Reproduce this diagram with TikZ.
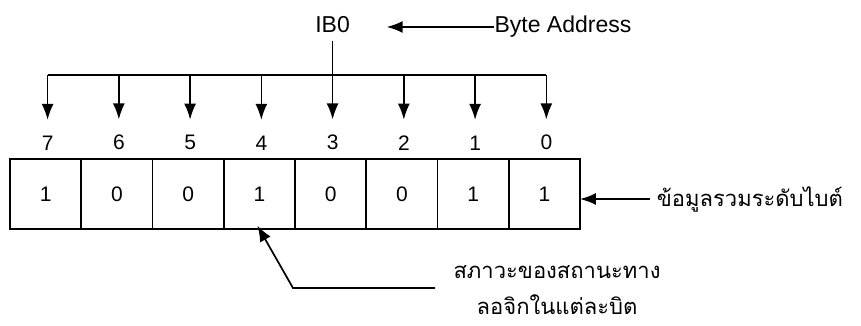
\documentclass[tikz,border=0pt]{standalone}
\usepackage{fontspec}
\setmainfont{Liberation Sans}
\newfontfamily\thaifont[Script=Thai]{Loma}
\usetikzlibrary{arrows.meta,positioning}

\tikzset{
  bitcell/.style={draw, rectangle, minimum width=71.25pt, minimum height=70pt, inner sep=0pt, outer sep=0pt, font=\fontsize{21}{24}\selectfont},
  bitnum/.style={inner sep=0pt, font=\fontsize{21}{24}\selectfont},
  bigtext/.style={inner sep=0pt, font=\fontsize{23}{26}\selectfont},
  thaitext/.style={inner sep=0pt, align=center, font=\thaifont\fontsize{22}{36}\selectfont}
}

\begin{document}
\begin{tikzpicture}[x=1pt, y=-1pt, line width=1.7pt, >={Latex[length=16pt,width=12pt]}]
    \useasboundingbox (0,0) rectangle (861,325);

    % The byte, bit 7 on the left down to bit 0 on the right
    \node[bitcell] (cell7) at (45.6,194) {1};
    \node[bitcell, right=0pt of cell7] (cell6) {0};
    \node[bitcell, right=0pt of cell6] (cell5) {0};
    \node[bitcell, right=0pt of cell5] (cell4) {1};
    \node[bitcell, right=0pt of cell4] (cell3) {0};
    \node[bitcell, right=0pt of cell3] (cell2) {0};
    \node[bitcell, right=0pt of cell2] (cell1) {1};
    \node[bitcell, right=0pt of cell1] (cell0) {1};

    % Bit numbers above the cells
    \node[bitnum, above=8pt of cell7, xshift=2pt] (bit7) {7};
    \node[bitnum, above=8pt of cell6, xshift=2pt] (bit6) {6};
    \node[bitnum, above=8pt of cell5, xshift=2pt] (bit5) {5};
    \node[bitnum, above=8pt of cell4, xshift=2pt] (bit4) {4};
    \node[bitnum, above=8pt of cell3, xshift=2pt] (bit3) {3};
    \node[bitnum, above=8pt of cell2, xshift=2pt] (bit2) {2};
    \node[bitnum, above=8pt of cell1, xshift=2pt] (bit1) {1};
    \node[bitnum, above=8pt of cell0, xshift=2pt] (bit0) {0};

    % Byte address on top
    \node[bigtext] (ib0) at (bit3 |- 0,25) {IB0};
    \node[bigtext, base right=143pt of ib0] (addr) {Byte Address};
    \draw[->] (addr.west) -- (addr.west -| ib0.east) [shorten >=36pt];

    % Bus line feeding every bit
    \coordinate (busline) at (0,75);
    \draw (bit7 |- busline) -- (bit0 |- busline);
    \draw[->, shorten >=15pt] (bit7 |- busline) -- (bit7);
    \draw[->, shorten >=15pt] (bit6 |- busline) -- (bit6);
    \draw[->, shorten >=15pt] (bit5 |- busline) -- (bit5);
    \draw[->, shorten >=15pt] (bit4 |- busline) -- (bit4);
    \draw[->, shorten >=15pt, shorten <=7pt] (ib0) -- (bit3);
    \draw[->, shorten >=15pt] (bit2 |- busline) -- (bit2);
    \draw[->, shorten >=15pt] (bit1 |- busline) -- (bit1);
    \draw[->, shorten >=15pt] (bit0 |- busline) -- (bit0);

    % Byte level data
    \node[thaitext, anchor=west] (bytedata) at (656,199) {ข้อมูลรวมระดับไบต์};
    \draw[->, shorten <=6pt] (bytedata.west) -- (bytedata.west -| cell0.east);

    % Logic state of each bit
    \node[thaitext] (bitstate) at (557,290) {สภาวะของสถานะทาง\\ลอจิกในแต่ละบิต};
    \coordinate (leadend) at (435,288);
    \coordinate (kink) at (293,288);
    \draw[->, shorten >=-4pt] (leadend) -- (kink) -- (cell4.south);
\end{tikzpicture}
\end{document}
